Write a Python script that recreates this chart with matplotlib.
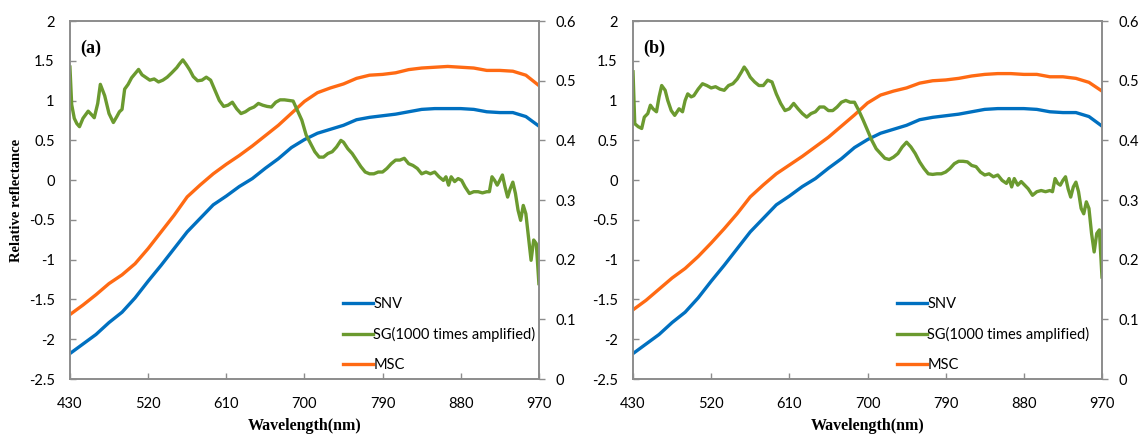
import numpy as np
import matplotlib
matplotlib.use('Agg')
import matplotlib.pyplot as plt

# ---- data ----
wavelength = [430, 445, 460, 475, 490, 505, 520, 535, 550, 565, 580, 595, 610, 625,
              640, 655, 670, 685, 700, 715, 730, 745, 760, 775, 790, 805, 820, 835,
              850, 865, 880, 895, 910, 925, 940, 955, 970]

snv = [-2.18, -2.06, -1.94, -1.79, -1.66, -1.48, -1.27, -1.07, -0.86, -0.65, -0.48,
       -0.31, -0.20, -0.08, 0.02, 0.15, 0.27, 0.41, 0.51, 0.59, 0.64, 0.69, 0.76,
       0.79, 0.81, 0.83, 0.86, 0.89, 0.90, 0.90, 0.90, 0.89, 0.86, 0.85, 0.85, 0.80, 0.68]

msc_a = [-1.69, -1.57, -1.44, -1.30, -1.19, -1.05, -0.86, -0.65, -0.44, -0.21, -0.06,
         0.08, 0.20, 0.31, 0.43, 0.56, 0.69, 0.84, 0.99, 1.10, 1.16, 1.21, 1.28, 1.32,
         1.33, 1.35, 1.39, 1.41, 1.42, 1.43, 1.42, 1.41, 1.38, 1.38, 1.37, 1.32, 1.19]

msc_b = [-1.63, -1.51, -1.37, -1.23, -1.11, -0.96, -0.79, -0.61, -0.42, -0.21, -0.06,
         0.08, 0.19, 0.30, 0.42, 0.54, 0.68, 0.82, 0.97, 1.07, 1.12, 1.16, 1.22, 1.25,
         1.26, 1.28, 1.31, 1.33, 1.34, 1.34, 1.33, 1.33, 1.30, 1.30, 1.28, 1.23, 1.12]

sg_wl_a = [430, 432, 435, 438, 441, 445, 451, 455, 458, 462, 465, 470, 475, 480, 484,
           487, 490, 493, 497, 501, 505, 509, 513, 517, 522, 527, 532, 537, 542, 547,
           553, 556, 560, 564, 568, 572, 577, 582, 587, 592, 597, 602, 607, 612, 617,
           622, 627, 632, 637, 642, 647, 652, 657, 662, 667, 672, 677, 682, 687, 692,
           697, 702, 707, 712, 717, 722, 727, 732, 737, 742, 745, 750, 755, 760, 765,
           770, 775, 780, 785, 790, 795, 800, 805, 810, 815, 820, 825, 830, 835, 840,
           845, 850, 855, 860, 863, 866, 869, 873, 877, 881, 885, 890, 895, 900, 905,
           910, 913, 916, 919, 922, 925, 928, 931, 934, 937, 940, 943, 946, 949, 952,
           955, 958, 961, 964, 967, 970]
sg_a = [0.523, 0.460, 0.437, 0.428, 0.423, 0.437, 0.449, 0.443, 0.438, 0.462, 0.494,
        0.475, 0.445, 0.430, 0.440, 0.448, 0.452, 0.486, 0.494, 0.505, 0.512, 0.519,
        0.510, 0.506, 0.501, 0.503, 0.498, 0.501, 0.506, 0.513, 0.522, 0.528, 0.535,
        0.527, 0.518, 0.507, 0.500, 0.501, 0.506, 0.501, 0.484, 0.467, 0.457, 0.459,
        0.464, 0.453, 0.445, 0.448, 0.453, 0.456, 0.462, 0.459, 0.457, 0.456, 0.464,
        0.468, 0.468, 0.467, 0.466, 0.450, 0.434, 0.409, 0.395, 0.381, 0.372, 0.372,
        0.378, 0.381, 0.389, 0.400, 0.397, 0.386, 0.378, 0.367, 0.356, 0.347, 0.344,
        0.344, 0.347, 0.347, 0.353, 0.361, 0.367, 0.367, 0.370, 0.361, 0.358, 0.353,
        0.344, 0.347, 0.344, 0.347, 0.339, 0.333, 0.339, 0.325, 0.339, 0.331, 0.336,
        0.333, 0.322, 0.311, 0.314, 0.314, 0.312, 0.314, 0.314, 0.339, 0.333, 0.325,
        0.333, 0.342, 0.322, 0.305, 0.319, 0.330, 0.311, 0.283, 0.266, 0.291, 0.277,
        0.238, 0.199, 0.233, 0.227, 0.160]

sg_wl_b = [430, 432, 436, 440, 443, 447, 450, 453, 457, 460, 463, 467, 470, 474, 478,
           483, 487, 490, 493, 497, 500, 505, 510, 515, 520, 525, 530, 535, 540, 545,
           550, 555, 558, 561, 565, 570, 575, 580, 585, 590, 595, 600, 605, 610, 615,
           620, 625, 630, 635, 640, 645, 650, 655, 660, 665, 670, 675, 680, 685, 690,
           695, 700, 705, 710, 715, 720, 725, 730, 735, 740, 745, 750, 755, 760, 765,
           770, 775, 780, 785, 790, 795, 800, 805, 810, 815, 820, 825, 830, 835, 840,
           845, 850, 855, 860, 863, 866, 869, 873, 877, 881, 885, 890, 895, 900, 905,
           910, 913, 916, 919, 922, 925, 928, 931, 934, 937, 940, 943, 946, 949, 952,
           955, 958, 961, 964, 967, 970]
sg_b = [0.515, 0.428, 0.423, 0.420, 0.439, 0.445, 0.459, 0.453, 0.448, 0.473, 0.492,
        0.484, 0.467, 0.450, 0.442, 0.453, 0.448, 0.467, 0.478, 0.473, 0.475, 0.486,
        0.495, 0.492, 0.488, 0.490, 0.486, 0.484, 0.492, 0.495, 0.503, 0.515, 0.523,
        0.517, 0.506, 0.498, 0.492, 0.492, 0.501, 0.498, 0.478, 0.462, 0.450, 0.453,
        0.462, 0.453, 0.445, 0.439, 0.445, 0.448, 0.456, 0.456, 0.450, 0.450, 0.456,
        0.464, 0.467, 0.464, 0.464, 0.450, 0.434, 0.417, 0.400, 0.386, 0.378, 0.370,
        0.368, 0.372, 0.378, 0.389, 0.397, 0.389, 0.378, 0.364, 0.353, 0.344, 0.343,
        0.344, 0.344, 0.347, 0.353, 0.361, 0.365, 0.365, 0.364, 0.358, 0.356, 0.347,
        0.342, 0.344, 0.339, 0.342, 0.333, 0.328, 0.336, 0.322, 0.336, 0.325, 0.331,
        0.325, 0.319, 0.308, 0.314, 0.316, 0.314, 0.316, 0.314, 0.336, 0.328, 0.325,
        0.333, 0.339, 0.319, 0.305, 0.322, 0.330, 0.314, 0.286, 0.277, 0.297, 0.286,
        0.244, 0.213, 0.244, 0.250, 0.171]

x_ticks = [430, 520, 610, 700, 790, 880, 970]
left_ticks = [-2.5, -2, -1.5, -1, -0.5, 0, 0.5, 1, 1.5, 2]
right_ticks = [0, 0.1, 0.2, 0.3, 0.4, 0.5, 0.6]

BLUE = '#0070C0'
GREEN = '#6B9A2F'
ORANGE = '#FF6A13'
SPINE = '#8C8C8C'
TICK_FONT = 'Lato'
LABEL_FONT = 'Liberation Serif'


def draw_panel(fig, rect, msc, sg_wl, sg, tag, leg_x, show_ylabel):
    ax = fig.add_axes(rect)
    ax2 = ax.twinx()

    l1, = ax.plot(wavelength, snv, color=BLUE, lw=2.4, label='SNV')
    l3, = ax.plot(wavelength, msc, color=ORANGE, lw=2.4, label='MSC')
    l2, = ax2.plot(sg_wl, sg, color=GREEN, lw=2.4, label='SG(1000 times amplified)')

    ax.set_xlim(430, 970)
    ax.set_ylim(-2.5, 2)
    ax2.set_ylim(0, 0.6)

    ax.set_xticks(x_ticks)
    ax.set_yticks(left_ticks)
    ax2.set_yticks(right_ticks)
    ax.set_xticklabels([str(t) for t in x_ticks], fontfamily=TICK_FONT, fontsize=10.5)
    ax.set_yticklabels([f'{t:g}' for t in left_ticks], fontfamily=TICK_FONT, fontsize=10.5)
    ax2.set_yticklabels([f'{t:g}' for t in right_ticks], fontfamily=TICK_FONT, fontsize=10.5)

    ax.tick_params(axis='x', direction='in', length=4, width=1, color=SPINE, pad=13)
    ax.tick_params(axis='y', direction='in', length=4, width=1, color=SPINE, pad=11)
    ax2.tick_params(axis='y', direction='out', length=4, width=1, color=SPINE, pad=8)

    for a in (ax, ax2):
        for sp in a.spines.values():
            sp.set_color(SPINE)
            sp.set_linewidth(1.2)

    ax.set_xlabel('Wavelength(nm)', fontfamily=LABEL_FONT, fontweight='bold',
                  fontsize=11.5, labelpad=5)
    if show_ylabel:
        ax.set_ylabel('Relative reflectance', fontfamily=LABEL_FONT, fontweight='bold',
                      fontsize=10.5, labelpad=4)

    ax.text(0.022, 0.925, tag, transform=ax.transAxes, fontfamily=LABEL_FONT,
            fontweight='bold', fontsize=13, va='center', ha='left')

    ax2.legend([l1, l2, l3], ['SNV', 'SG(1000 times amplified)', 'MSC'],
               loc='lower left', bbox_to_anchor=(leg_x, 0.019), frameon=False,
               prop={'family': TICK_FONT, 'size': 10.5}, handlelength=2.1,
               handletextpad=0.0, labelspacing=1.1, borderpad=0, borderaxespad=0)


fig = plt.figure(figsize=(11.41, 4.37), dpi=100)
draw_panel(fig, [0.0613, 0.1327, 0.411, 0.819], msc_a, sg_wl_a, sg_a, '(a)', 0.582, True)
draw_panel(fig, [0.5548, 0.1327, 0.411, 0.819], msc_b, sg_wl_b, sg_b, '(b)', 0.562, False)

fig.savefig('out.png', dpi=100)
